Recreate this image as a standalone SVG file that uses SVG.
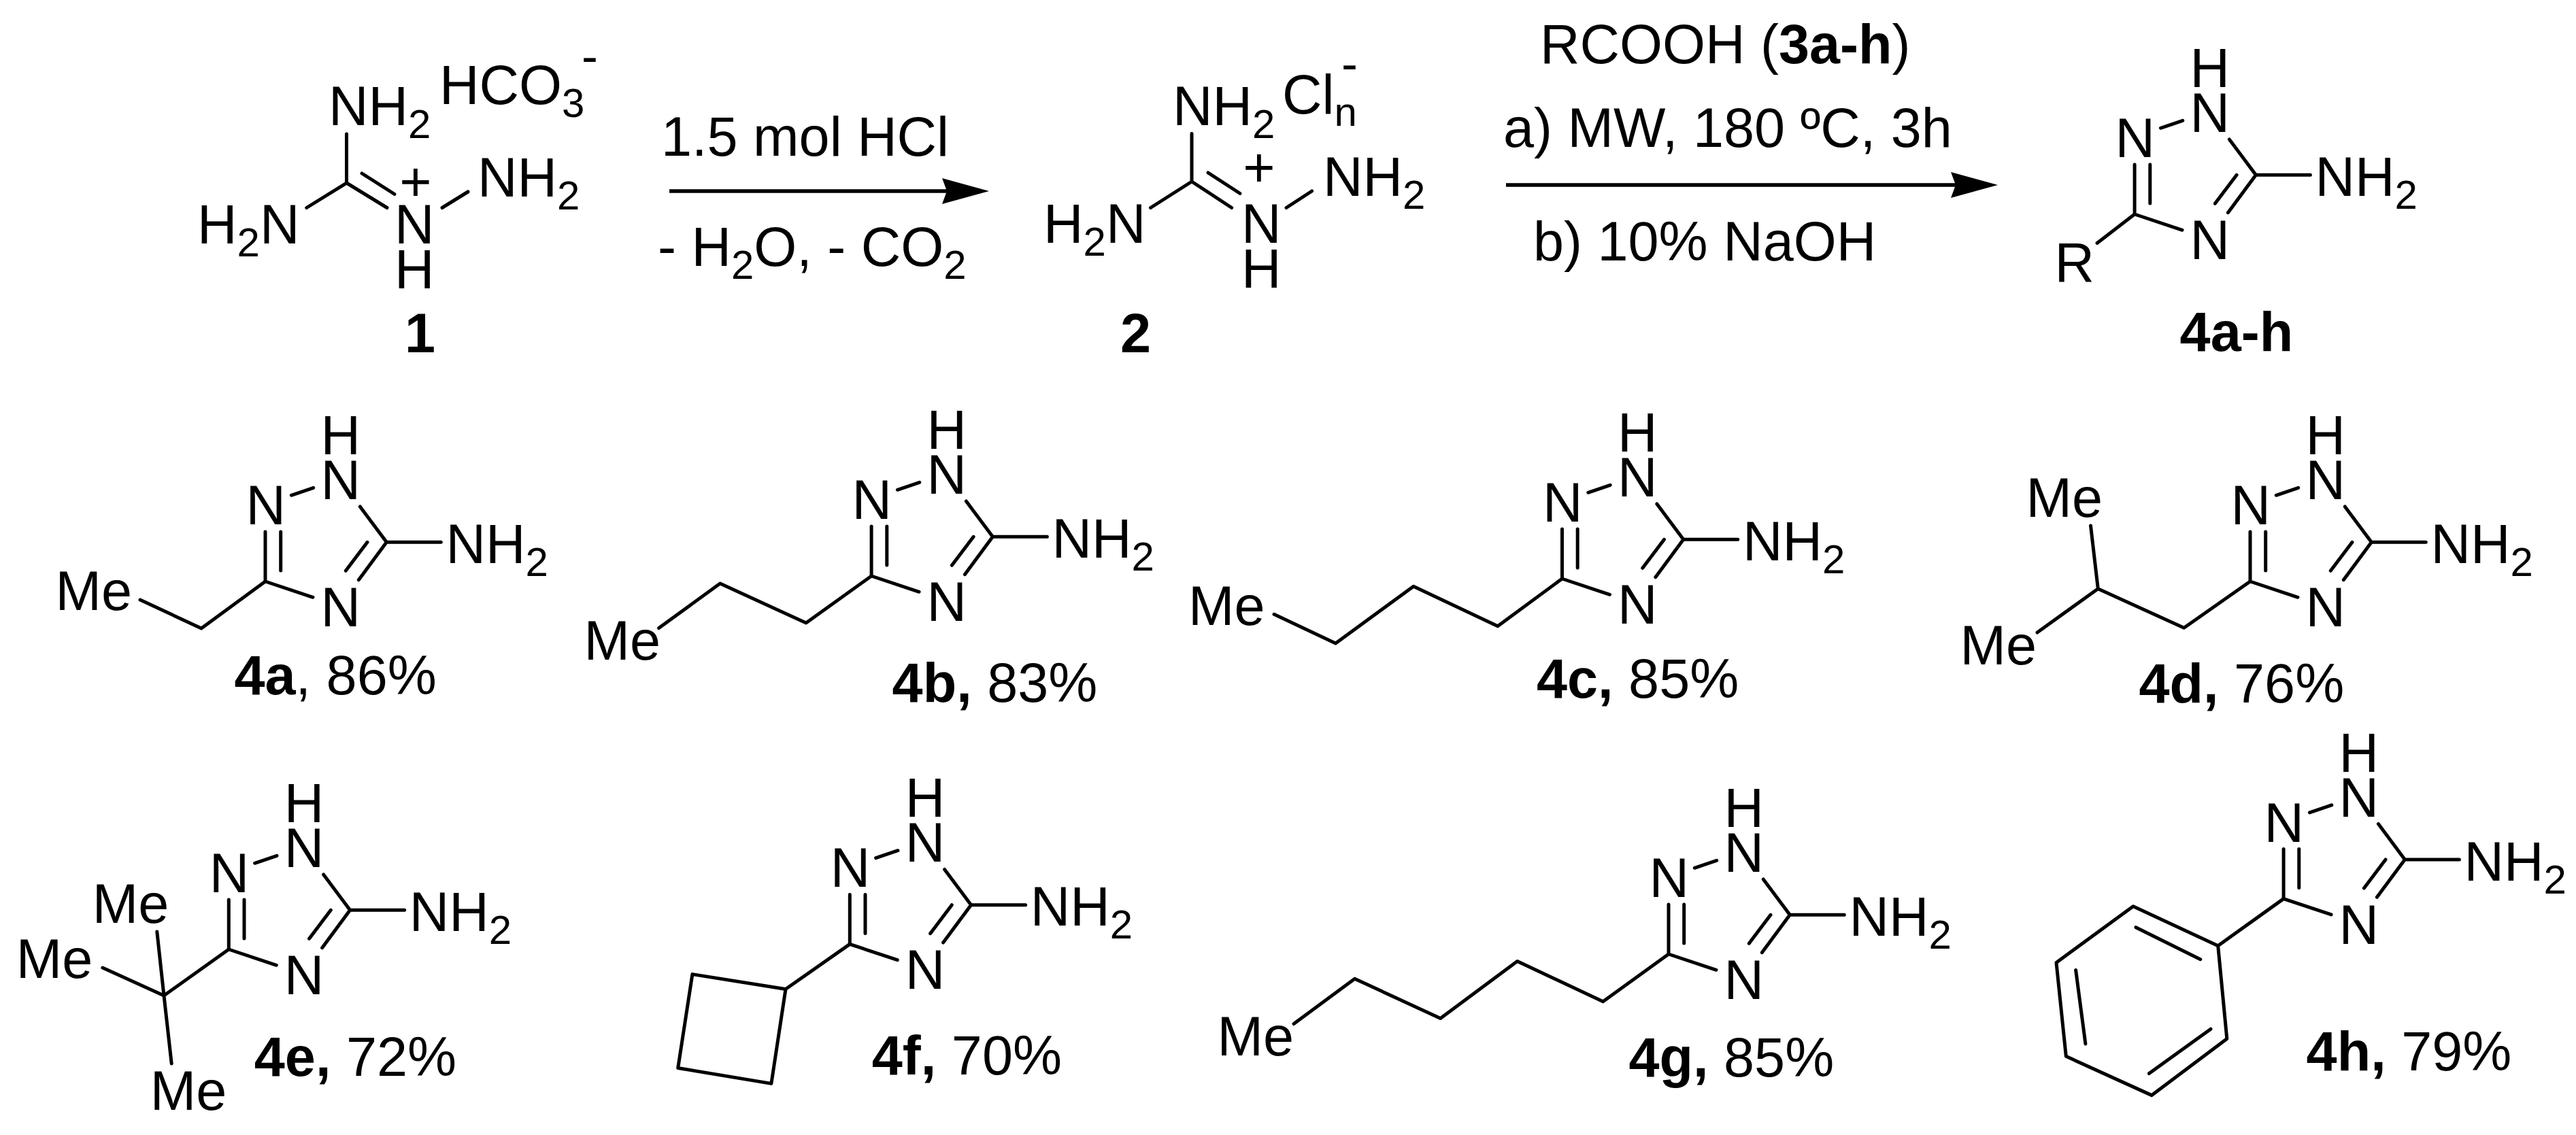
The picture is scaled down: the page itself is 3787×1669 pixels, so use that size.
<svg xmlns="http://www.w3.org/2000/svg" xmlns:xlink="http://www.w3.org/1999/xlink" width="3787" height="1669" viewBox="0 0 3787 1669">
<style>
text{font-family:"Liberation Sans",Arial,sans-serif;font-size:81px;fill:#000}
.b{font-weight:bold}
.s{font-size:60px}
.bond{fill:none;stroke:#000;stroke-width:5;stroke-linecap:round;stroke-linejoin:round}
.arrow{fill:none;stroke:#000;stroke-width:5.7}
</style>
<defs>
<path id="ring" class="bond" d="M1.5 -72V1M24.2 -72V-15M1.5 1L71.5 24.3M39.8 -125.7L72.2 -136.7M140.8 -109L179.8 -56.7H259.8M179.8 -56.7L138.8 -1.3M151.5 -56.7L119.8 -14.7"/>
<marker id="head" markerUnits="userSpaceOnUse" markerWidth="70" markerHeight="40" refX="7" refY="20" orient="auto"><path d="M0 1L69 20L0 39L7 20Z" fill="#000"/></marker>
</defs>
<rect width="3787" height="1669" fill="#fff"/>
<g id="connectors">
<path class="arrow" d="M984 281H1392" marker-end="url(#head)"/>
<path class="arrow" d="M2214 272H2875" marker-end="url(#head)"/>
</g>
<g id="n1">
<path class="bond" d="M509.5 197V269L450.7 305.5M509.5 269L569 305.5M532 255L580 285.5M650 305.5L688 282"/>
<text x="483" y="184">NH<tspan class="s" dy="19">2</tspan></text>
<text x="646" y="153">HCO<tspan class="s" dy="19">3</tspan></text>
<text x="855" y="107" style="font-size:72px">-</text>
<text x="290" y="358">H<tspan class="s" dy="19">2</tspan><tspan dy="-19">N</tspan></text>
<text x="580" y="358">N</text>
<text x="580" y="424">H</text>
<text x="702" y="289">NH<tspan class="s" dy="19">2</tspan></text>
<text x="611" y="295" text-anchor="middle">+</text>
<text class="b" x="595" y="518">1</text>
</g>
<g id="reagent1">
<text x="972" y="229">1.5 mol HCl</text>
<text x="967" y="391">- H<tspan class="s" dy="19">2</tspan><tspan dy="-19">O, - CO</tspan><tspan class="s" dy="19">2</tspan></text>
</g>
<g id="n2">
<path class="bond" d="M1752 196.5V267L1691.5 305.5M1752 267L1810.7 305.5M1776 254L1823 284.5M1891 305.5L1928.6 281"/>
<text x="1724" y="184">NH<tspan class="s" dy="19">2</tspan></text>
<text x="1885" y="167">Cl<tspan class="s" dy="18">n</tspan></text>
<text x="1972" y="118" style="font-size:72px">-</text>
<text x="1534" y="357">H<tspan class="s" dy="19">2</tspan><tspan dy="-19">N</tspan></text>
<text x="1825" y="357">N</text>
<text x="1825" y="423">H</text>
<text x="1945" y="288">NH<tspan class="s" dy="19">2</tspan></text>
<text x="1851" y="274" text-anchor="middle">+</text>
<text class="b" x="1647" y="518">2</text>
</g>
<g id="reagent2">
<text x="2264" y="93">RCOOH (<tspan class="b">3a-h</tspan>)</text>
<text x="2210" y="216">a) MW, 180 ºC, 3h</text>
<text x="2254" y="383">b) 10% NaOH</text>
</g>
<g id="n4ah" transform="translate(3136.6 314)">
<use xlink:href="#ring" href="#ring"/>
<path class="bond" d="M1.5 1L-53.6 43.4"/>
<text x="83" y="-186">H</text><text x="83" y="-120">N</text><text x="-27" y="-83">N</text><text x="83" y="67">N</text>
<text x="267" y="-26">NH<tspan class="s" dy="19">2</tspan></text>
<text x="-116" y="99.5">R</text>
<text class="b" x="68" y="201.5">4a-h</text>
</g>
<g id="n4a" transform="translate(388.5 854)">
<use xlink:href="#ring" href="#ring"/>
<path class="bond" d="M1.5 1L-92.5 70L-182.5 28"/>
<text x="83" y="-186">H</text><text x="83" y="-120">N</text><text x="-27" y="-83">N</text><text x="83" y="67">N</text>
<text x="267" y="-26">NH<tspan class="s" dy="19">2</tspan></text>
<text x="-307" y="43">Me</text>
<text x="-44" y="167"><tspan class="b">4a</tspan>, 86%</text>
</g>
<g id="n4b" transform="translate(1279.6 846)">
<use xlink:href="#ring" href="#ring"/>
<path class="bond" d="M1.5 1L-94.6 70L-221 12L-311 77.5"/>
<text x="83" y="-186">H</text><text x="83" y="-120">N</text><text x="-27" y="-83">N</text><text x="83" y="67">N</text>
<text x="267" y="-26">NH<tspan class="s" dy="19">2</tspan></text>
<text x="-421" y="124">Me</text>
<text x="32" y="186"><tspan class="b">4b,</tspan> 83%</text>
</g>
<g id="n4c" transform="translate(2295 850)">
<use xlink:href="#ring" href="#ring"/>
<path class="bond" d="M1.5 1L-93.2 70.7L-217 12.3L-331.5 96L-422 53.3"/>
<text x="83" y="-186">H</text><text x="83" y="-120">N</text><text x="-27" y="-83">N</text><text x="83" y="67">N</text>
<text x="267" y="-26">NH<tspan class="s" dy="19">2</tspan></text>
<text x="-548" y="69">Me</text>
<text x="-36" y="176"><tspan class="b">4c,</tspan> 85%</text>
</g>
<g id="n4d" transform="translate(3306.5 854)">
<use xlink:href="#ring" href="#ring"/>
<path class="bond" d="M1.5 1L-95.8 69.3L-222.2 11.7L-311.5 76M-222.2 11.7L-233 -81"/>
<text x="83" y="-186">H</text><text x="83" y="-120">N</text><text x="-27" y="-83">N</text><text x="83" y="67">N</text>
<text x="267" y="-26">NH<tspan class="s" dy="19">2</tspan></text>
<text x="-328" y="-94">Me</text>
<text x="-425" y="123">Me</text>
<text x="-162" y="179"><tspan class="b">4d,</tspan> 76%</text>
</g>
<g id="n4e" transform="translate(334.8 1395)">
<use xlink:href="#ring" href="#ring"/>
<path class="bond" d="M1.5 1L-93.8 69L-104 -25M-93.8 69L-184 28M-93.8 69L-82.6 169"/>
<text x="83" y="-186">H</text><text x="83" y="-120">N</text><text x="-27" y="-83">N</text><text x="83" y="67">N</text>
<text x="267" y="-26">NH<tspan class="s" dy="19">2</tspan></text>
<text x="-199" y="-38">Me</text>
<text x="-311" y="43">Me</text>
<text x="-114" y="237">Me</text>
<text x="39" y="187"><tspan class="b">4e,</tspan> 72%</text>
</g>
<g id="n4f" transform="translate(1247.8 1387.4)">
<use xlink:href="#ring" href="#ring"/>
<path class="bond" d="M1.5 1L-92.8 67.1M-92.8 67.1L-229.9 45.2L-251.1 183.1L-113.9 206Z"/>
<text x="83" y="-186">H</text><text x="83" y="-120">N</text><text x="-27" y="-83">N</text><text x="83" y="67">N</text>
<text x="267" y="-26">NH<tspan class="s" dy="19">2</tspan></text>
<text x="34" y="193"><tspan class="b">4f,</tspan> 70%</text>
</g>
<g id="n4g" transform="translate(2451.5 1402)">
<use xlink:href="#ring" href="#ring"/>
<path class="bond" d="M1.5 1L-94.9 70.7L-220.9 11.6L-333.9 95.5L-459.9 37.2L-549.5 103.5"/>
<text x="83" y="-186">H</text><text x="83" y="-120">N</text><text x="-27" y="-83">N</text><text x="83" y="67">N</text>
<text x="267" y="-26">NH<tspan class="s" dy="19">2</tspan></text>
<text x="-662" y="150">Me</text>
<text x="-57" y="181"><tspan class="b">4g,</tspan> 85%</text>
</g>
<g id="n4h" transform="translate(3355.6 1320.6)">
<use xlink:href="#ring" href="#ring"/>
<path class="bond" d="M1.5 1L-94.9 70.1M-94.9 70.1L-219.6 12.1L-332.6 94.9L-318.3 232.7L-192.3 290L-81.8 206.8Z"/>
<path class="bond" d="M-215.6 43.1L-120.8 90.1M-304 105.8L-289.7 214.4M-196.2 257.9L-105.6 192.6"/>
<text x="83" y="-186">H</text><text x="83" y="-120">N</text><text x="-27" y="-83">N</text><text x="83" y="67">N</text>
<text x="267" y="-26">NH<tspan class="s" dy="19">2</tspan></text>
<text x="35" y="253"><tspan class="b">4h,</tspan> 79%</text>
</g>
</svg>
